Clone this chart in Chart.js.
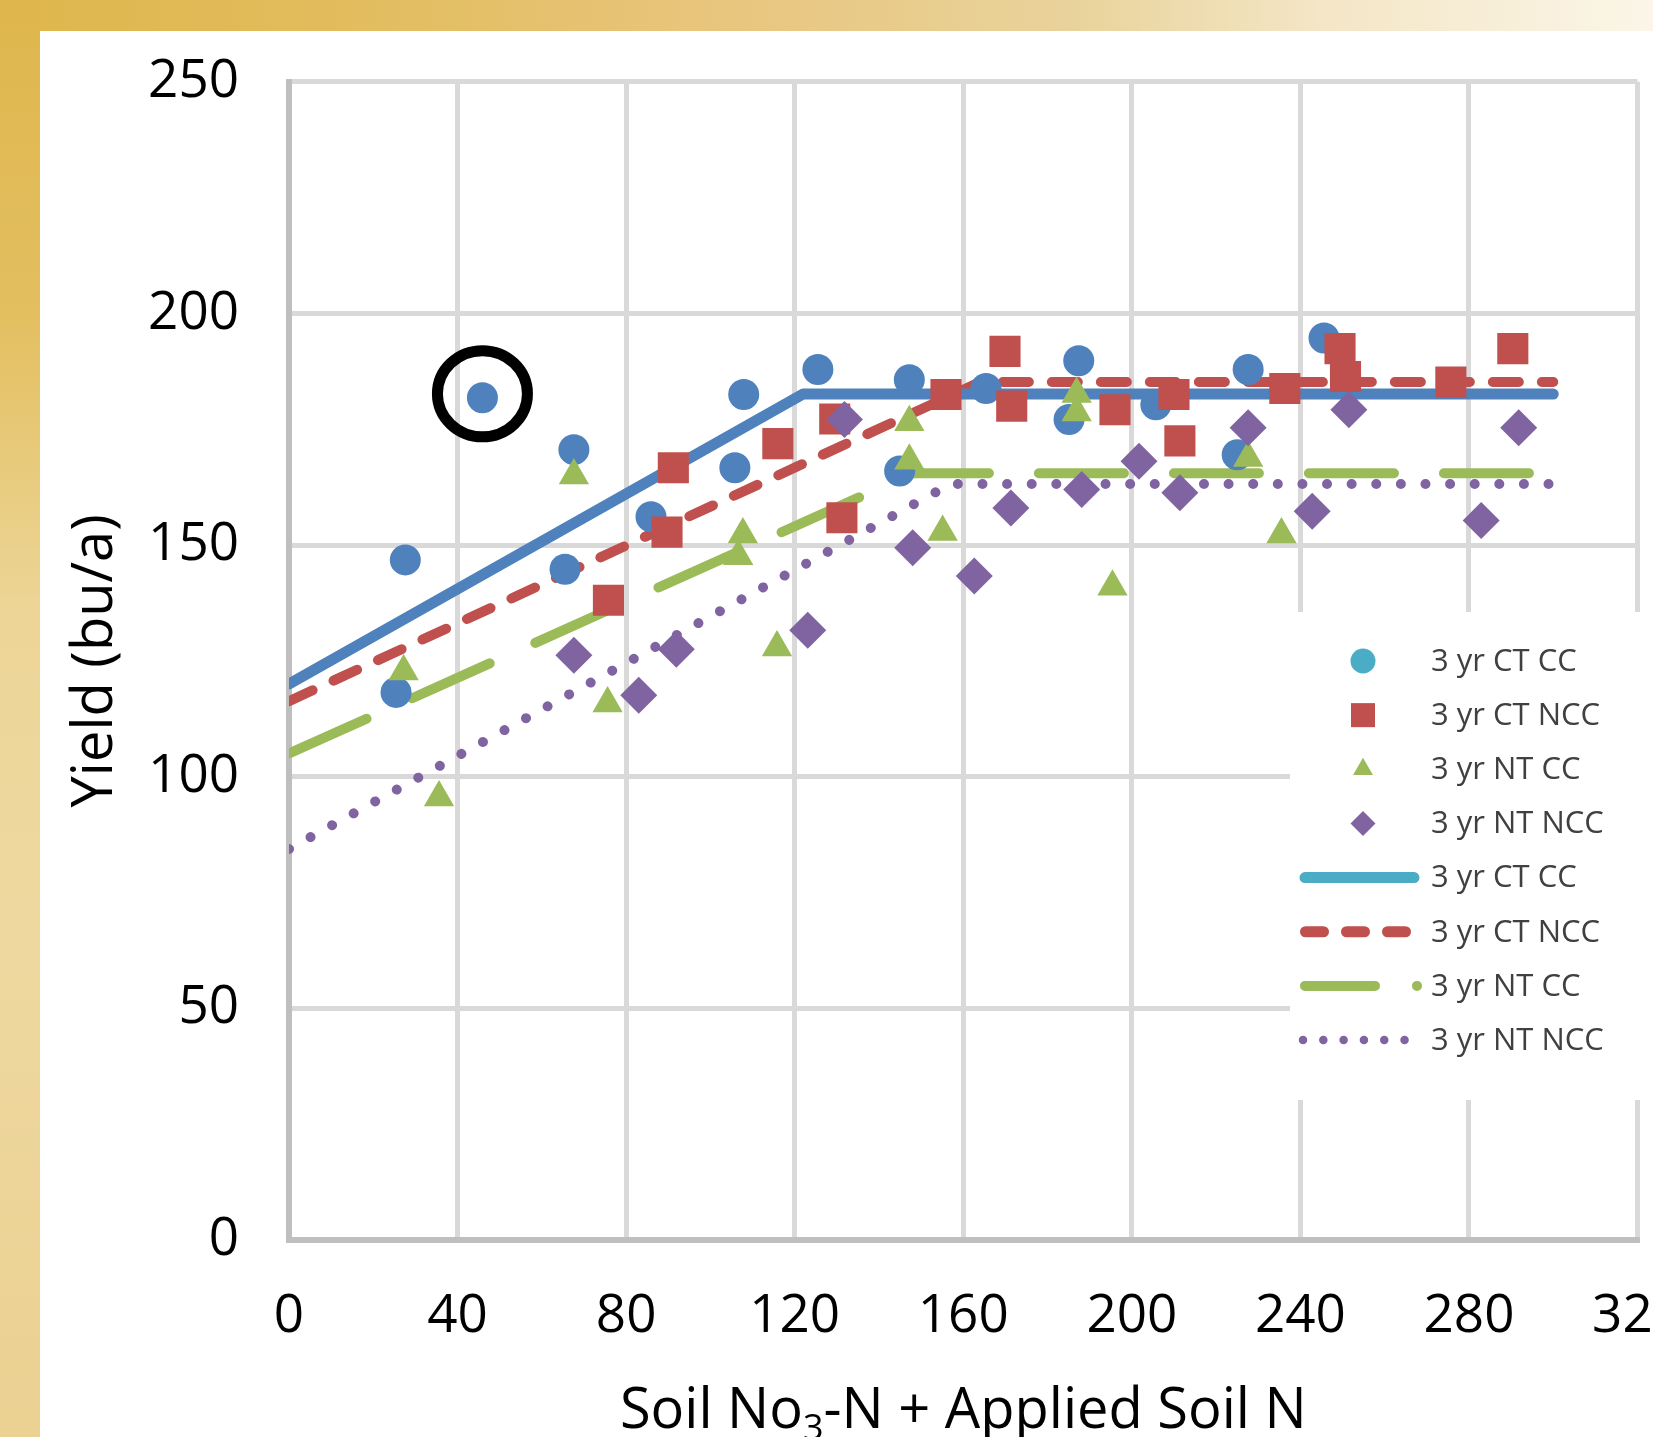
<!DOCTYPE html>
<html>
<head>
<meta charset="utf-8">
<script src="https://cdn.jsdelivr.net/npm/chart.js@4.4.0/dist/chart.umd.js"></script>
<style>
  html, body { margin: 0; padding: 0; background: #fff; }
  #page { position: relative; width: 1653px; height: 1437px; overflow: hidden; background: #fff; }
  #topBand {
    position: absolute; left: 0; top: 0; width: 1653px; height: 31px;
    background: linear-gradient(to right, #dfb64d 0%, #e2bc5c 20%, #e8c67f 45%, #e9d39c 65%, #f4e6c6 80%, #fbf6e8 100%);
  }
  #leftBand {
    position: absolute; left: 0; top: 0; width: 40px; height: 1437px;
    background: linear-gradient(to bottom, #dfb64d 0%, #e3bf60 22%, #ecd596 42%, #eed89f 65%, #ebd192 100%);
  }
  #wrap { position: absolute; left: 40px; top: 31px; width: 1613px; height: 1406px; overflow: hidden; }
  #chart { position: absolute; left: 0; top: -31px; }
</style>
</head>
<body>
<div id="page">
  <div id="topBand"></div>
  <div id="leftBand"></div>
  <div id="wrap"><canvas id="chart" width="1688" height="1437"></canvas></div>
</div>
<script>
// --- data ---
const xTicks = [0, 40, 80, 120, 160, 200, 240, 280, 320];
const yTicks = [0, 50, 100, 150, 200, 250];

const ctCcX = [25.4, 27.6, 45.9, 65.5, 67.6, 85.9, 105.8, 107.9, 125.5, 144.9, 147.2, 165.4, 185.1, 187.4, 205.7, 225.0, 227.6, 245.6];
const ctCcY = [118.2, 146.8, 181.8, 144.8, 170.6, 156.1, 166.7, 182.5, 187.9, 166.0, 185.7, 183.8, 177.1, 189.8, 180.3, 169.5, 187.9, 194.7];

const ctNccX = [75.8, 89.7, 91.2, 116.0, 129.5, 131.2, 155.9, 169.9, 171.5, 196.0, 210.0, 211.4, 236.3, 249.4, 250.7, 275.7, 290.4];
const ctNccY = [138.1, 152.8, 166.7, 171.9, 177.2, 155.9, 182.5, 191.8, 180.0, 179.2, 182.5, 172.5, 183.8, 192.4, 186.4, 185.2, 192.4];

const ntCcX = [27.2, 35.6, 67.6, 75.6, 107.7, 106.6, 115.8, 147.2, 147.2, 155.1, 186.9, 186.9, 195.4, 227.6, 235.5];
const ntCcY = [122.7, 95.5, 165.0, 115.8, 152.3, 147.6, 127.9, 176.5, 168.2, 152.8, 182.6, 178.6, 141.0, 168.8, 152.3];

const ntNccX = [67.6, 83.0, 91.9, 123.1, 131.8, 148.0, 162.6, 171.3, 188.1, 201.7, 211.4, 227.6, 242.8, 251.5, 282.9, 291.8];
const ntNccY = [126.2, 117.6, 127.5, 131.6, 177.1, 149.4, 143.3, 158.0, 162.0, 168.1, 161.3, 175.3, 157.3, 179.2, 155.3, 175.3];

// linear-plateau fits (break points)
const fitCtCcX = [0, 122, 300],   fitCtCcY = [120, 182.6, 182.6];
const fitCtNccX = [0, 164, 300],  fitCtNccY = [116.3, 185.2, 185.2];
const fitNtCcX = [0, 148, 300],   fitNtCcY = [105, 165.5, 165.5];
const fitNtNccX = [0, 157, 300],  fitNtNccY = [84.4, 163.2, 163.2];

const circledPoint = 2; // the ringed point in 3 yr CT CC

const pts = (xs, ys) => xs.map((x, i) => ({ x: x, y: ys[i] }));

const BLUE = '#4f81bd', RED = '#c0504d', GREEN = '#9bbb59', PURPLE = '#8064a2', CYAN = '#4bacc6';

function markerSet(label, xs, ys, color, style, r, order, legendColor, legendR) {
  return {
    label: label, data: pts(xs, ys), order: order,
    backgroundColor: color, borderColor: color,
    pointStyle: style, pointRadius: r, pointBorderWidth: 0, showLine: false,
    legendKind: 'marker', legendColor: legendColor || color, legendR: legendR
  };
}
function fitSet(label, xs, ys, color, width, dash, legendColor) {
  return {
    label: label, data: pts(xs, ys), order: 10,
    borderColor: color, backgroundColor: color, borderWidth: width, borderDash: dash,
    borderCapStyle: 'round', borderJoinStyle: 'round', showLine: true, pointRadius: 0, tension: 0,
    legendKind: 'line', legendColor: legendColor || color
  };
}

const datasets = [
  markerSet('3 yr CT CC', ctCcX, ctCcY, BLUE, 'circle', 15.5, 4, CYAN, 12.5),
  markerSet('3 yr CT NCC', ctNccX, ctNccY, RED, 'rect', 22, 3, RED, 17),
  markerSet('3 yr NT CC', ntCcX, ntCcY, GREEN, 'triangle', 17.5, 2, GREEN, 11.5),
  markerSet('3 yr NT NCC', ntNccX, ntNccY, PURPLE, 'rectRot', 18.5, 1, PURPLE, 12.5),
  fitSet('3 yr CT CC', fitCtCcX, fitCtCcY, BLUE, 11, [], CYAN),
  fitSet('3 yr CT NCC', fitCtNccX, fitCtNccY, RED, 10, [26, 23]),
  fitSet('3 yr NT CC', fitNtCcX, fitNtCcY, GREEN, 10, [85, 50]),
  fitSet('3 yr NT NCC', fitNtNccX, fitNtNccY, PURPLE, 10, [0.01, 24.6])
];

// legend sample strokes
const legendSamples = [
  null, null, null, null,
  { w: 11, dash: [], from: 1265, to: 1374 },
  { w: 11, dash: [18, 23], from: 1265.5, to: 1366 },
  { w: 10, dash: [70, 42, 0.01, 200], from: 1265, to: 1380 },
  { w: 8.5, dash: [0.01, 20.3], from: 1263, to: 1366 }
];

function drawMarker(ctx, style, r, x, y) {
  ctx.beginPath();
  if (style === 'circle') {
    ctx.arc(x, y, r, 0, Math.PI * 2);
  } else if (style === 'rect') {
    const s = r * Math.SQRT1_2;
    ctx.rect(x - s, y - s, 2 * s, 2 * s);
  } else if (style === 'triangle') {
    ctx.moveTo(x, y - r);
    ctx.lineTo(x + r * 0.866, y + r / 2);
    ctx.lineTo(x - r * 0.866, y + r / 2);
    ctx.closePath();
  } else {
    ctx.moveTo(x - r, y); ctx.lineTo(x, y - r); ctx.lineTo(x + r, y); ctx.lineTo(x, y + r);
    ctx.closePath();
  }
  ctx.fill();
}

const ringPlugin = {
  id: 'ring',
  afterDatasetsDraw(chart) {
    const p = chart.getDatasetMeta(0).data[circledPoint];
    const ctx = chart.ctx;
    ctx.save();
    ctx.strokeStyle = '#000';
    ctx.lineWidth = 11;
    ctx.beginPath();
    ctx.ellipse(p.x, p.y - 4, 45, 43, 0, 0, Math.PI * 2);
    ctx.stroke();
    ctx.restore();
  }
};

const xTitlePlugin = {
  id: 'xTitle',
  afterDraw(chart) {
    const ctx = chart.ctx, a = chart.chartArea;
    const parts = [['Soil No', 56, 0], ['3', 36, 12], ['-N + Applied Soil N', 56, 0]];
    ctx.save();
    ctx.fillStyle = '#000';
    ctx.textBaseline = 'alphabetic';
    ctx.textAlign = 'left';
    let total = 0;
    parts.forEach(p => { ctx.font = p[1] + 'px "Open Sans"'; total += ctx.measureText(p[0]).width; });
    let x = (a.left + a.right) / 2 - total / 2;
    const base = a.bottom + 188;
    parts.forEach(p => {
      ctx.font = p[1] + 'px "Open Sans"';
      ctx.fillText(p[0], x, base + p[2]);
      x += ctx.measureText(p[0]).width;
    });
    ctx.restore();
  }
};

const legendPlugin = {
  id: 'sideLegend',
  afterDraw(chart) {
    const ctx = chart.ctx;
    ctx.save();
    ctx.fillStyle = '#fff';
    ctx.fillRect(1250, 612, 440, 488);
    chart.data.datasets.forEach((ds, i) => {
      const y = 661 + i * 54.15;
      ctx.fillStyle = ds.legendColor;
      ctx.strokeStyle = ds.legendColor;
      if (ds.legendKind === 'marker') {
        drawMarker(ctx, ds.pointStyle, ds.legendR, 1323, y);
      } else {
        const s = legendSamples[i];
        ctx.lineWidth = s.w;
        ctx.lineCap = 'round';
        ctx.setLineDash(s.dash);
        ctx.beginPath();
        ctx.moveTo(s.from, y);
        ctx.lineTo(s.to, y);
        ctx.stroke();
        ctx.setLineDash([]);
      }
      ctx.fillStyle = '#404040';
      ctx.font = '31px "Open Sans"';
      ctx.textBaseline = 'middle';
      ctx.textAlign = 'left';
      ctx.fillText(ds.label, 1391, y + 1);
    });
    ctx.restore();
  }
};

Chart.defaults.font.family = '"Open Sans", sans-serif';
Chart.defaults.color = '#000';

new Chart(document.getElementById('chart'), {
  type: 'scatter',
  data: { datasets: datasets },
  plugins: [ringPlugin, xTitlePlugin, legendPlugin],
  options: {
    responsive: false,
    devicePixelRatio: 1,
    animation: false,
    events: [],
    layout: { padding: { top: 18, right: 34, left: 0, bottom: 0 } },
    plugins: { legend: { display: false }, tooltip: { enabled: false } },
    scales: {
      x: {
        type: 'linear', min: 0, max: 320,
        afterBuildTicks: axis => { axis.ticks = xTicks.map(v => ({ value: v })); },
        afterFit: scale => { scale.height = 197; },
        ticks: { font: { size: 53 }, color: '#000', padding: 45, maxRotation: 0, autoSkip: false },
        grid: { color: '#d9d9d9', lineWidth: 5, drawTicks: false },
        border: { color: '#bfbfbf', width: 6 }
      },
      y: {
        type: 'linear', min: 0, max: 250,
        afterBuildTicks: axis => { axis.ticks = yTicks.map(v => ({ value: v })); },
        afterFit: scale => { scale.width = 249; },
        ticks: { font: { size: 53 }, color: '#000', padding: 50 },
        grid: { color: '#d9d9d9', lineWidth: 5, drawTicks: false },
        border: { color: '#bfbfbf', width: 6 },
        title: { display: true, text: 'Yield (bu/a)', font: { size: 56 }, color: '#000', padding: { top: 22, bottom: 0 } }
      }
    }
  }
});
</script>
</body>
</html>
